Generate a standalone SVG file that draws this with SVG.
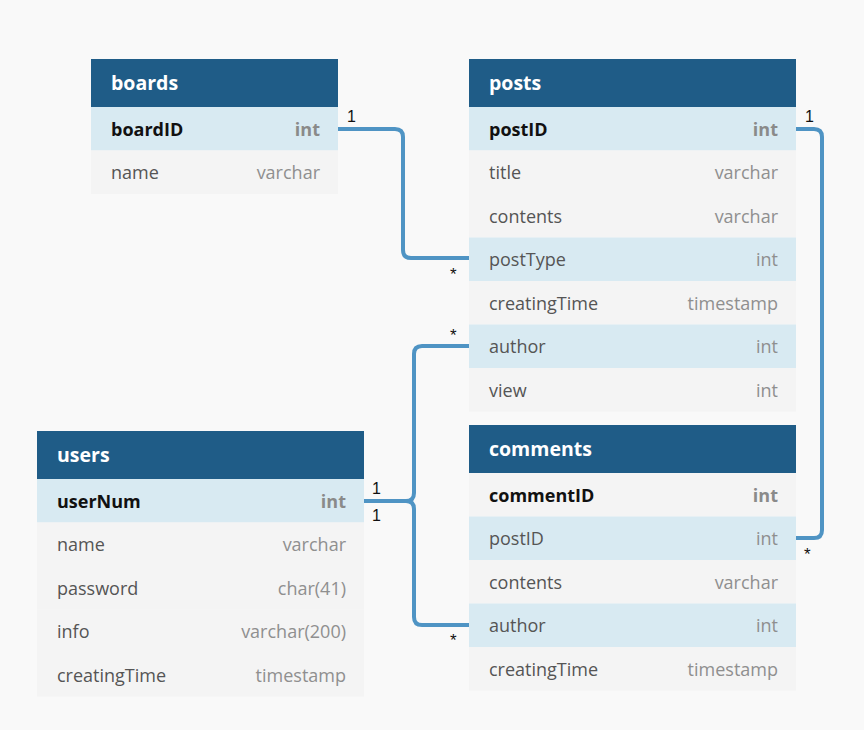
<svg xmlns="http://www.w3.org/2000/svg" width="864" height="730" viewBox="0 0 864 730">
<style>
.hd{fill:#1f5c87}
.hl{fill:#d8eaf2}
.pl{fill:#f4f4f4}
.ht{font-family:"Open Sans","Noto Sans",sans-serif;font-size:19.5px;font-weight:bold;fill:#ffffff}
.pk{font-family:"Open Sans","Noto Sans",sans-serif;font-size:18px;font-weight:bold;fill:#111111}
.pkt{font-family:"Open Sans","Noto Sans",sans-serif;font-size:18px;font-weight:bold;fill:#8a8a8a;text-anchor:end}
.fn{font-family:"Open Sans","Noto Sans",sans-serif;font-size:18px;fill:#555555}
.ft{font-family:"Open Sans","Noto Sans",sans-serif;font-size:18px;fill:#8f8f8f;text-anchor:end}
.cn{fill:none;stroke:#4f94c4;stroke-width:4}
.lb{font-family:"Liberation Sans",Arial,sans-serif;font-size:16px;fill:#111111}
.st{font-family:"Liberation Sans",Arial,sans-serif;font-size:17px;fill:#111111}
</style>
<rect width="864" height="730" fill="#f9f9f9"/>
<g id="connectors">
<path class="cn" d="M338,129 H395 Q403,129 403,137 V250 Q403,258 411,258 H469"/>
<path class="cn" d="M796,129 H814 Q822,129 822,137 V530 Q822,538 814,538 H796"/>
<path class="cn" d="M364,501 H406 Q414,501 414,493 V354 Q414,346 422,346 H469"/>
<path class="cn" d="M404,501 H406 Q414,501 414,509 V617 Q414,625 422,625 H469"/>
<text class="lb" x="347" y="122">1</text>
<text class="st" x="450" y="280">*</text>
<text class="lb" x="805" y="122">1</text>
<text class="st" x="804" y="560">*</text>
<text class="lb" x="372" y="494">1</text>
<text class="lb" x="372" y="521">1</text>
<text class="st" x="450" y="341">*</text>
<text class="st" x="450" y="646">*</text>
</g>
<g id="boards">
<rect class="hd" x="91" y="59" width="247" height="48"/>
<text class="ht" x="111" y="90">boards</text>
<rect class="hl" x="91" y="107" width="247" height="43.5"/>
<text class="pk" x="111" y="136">boardID</text>
<text class="pkt" x="320" y="136">int</text>
<rect class="pl" x="91" y="150.5" width="247" height="43.5"/>
<text class="fn" x="111" y="179">name</text>
<text class="ft" x="320" y="179">varchar</text>
</g>
<g id="posts">
<rect class="hd" x="469" y="59" width="327" height="48"/>
<text class="ht" x="489" y="90">posts</text>
<rect class="hl" x="469" y="107" width="327" height="43.5"/>
<text class="pk" x="489" y="136">postID</text>
<text class="pkt" x="778" y="136">int</text>
<rect class="pl" x="469" y="150.5" width="327" height="43.5"/>
<text class="fn" x="489" y="179">title</text>
<text class="ft" x="778" y="179">varchar</text>
<rect class="pl" x="469" y="194" width="327" height="43.5"/>
<text class="fn" x="489" y="223">contents</text>
<text class="ft" x="778" y="223">varchar</text>
<rect class="hl" x="469" y="237.5" width="327" height="43.5"/>
<text class="fn" x="489" y="266">postType</text>
<text class="ft" x="778" y="266">int</text>
<rect class="pl" x="469" y="281" width="327" height="43.5"/>
<text class="fn" x="489" y="310">creatingTime</text>
<text class="ft" x="778" y="310">timestamp</text>
<rect class="hl" x="469" y="324.5" width="327" height="43.5"/>
<text class="fn" x="489" y="353">author</text>
<text class="ft" x="778" y="353">int</text>
<rect class="pl" x="469" y="368" width="327" height="43.5"/>
<text class="fn" x="489" y="397">view</text>
<text class="ft" x="778" y="397">int</text>
</g>
<g id="comments">
<rect class="hd" x="469" y="425" width="327" height="48"/>
<text class="ht" x="489" y="456">comments</text>
<rect class="pl" x="469" y="473" width="327" height="43.5"/>
<text class="pk" x="489" y="502">commentID</text>
<text class="pkt" x="778" y="502">int</text>
<rect class="hl" x="469" y="516.5" width="327" height="43.5"/>
<text class="fn" x="489" y="545">postID</text>
<text class="ft" x="778" y="545">int</text>
<rect class="pl" x="469" y="560" width="327" height="43.5"/>
<text class="fn" x="489" y="589">contents</text>
<text class="ft" x="778" y="589">varchar</text>
<rect class="hl" x="469" y="603.5" width="327" height="43.5"/>
<text class="fn" x="489" y="632">author</text>
<text class="ft" x="778" y="632">int</text>
<rect class="pl" x="469" y="647" width="327" height="43.5"/>
<text class="fn" x="489" y="676">creatingTime</text>
<text class="ft" x="778" y="676">timestamp</text>
</g>
<g id="users">
<rect class="hd" x="37" y="431" width="327" height="48"/>
<text class="ht" x="57" y="462">users</text>
<rect class="hl" x="37" y="479" width="327" height="43.5"/>
<text class="pk" x="57" y="508">userNum</text>
<text class="pkt" x="346" y="508">int</text>
<rect class="pl" x="37" y="522.5" width="327" height="43.5"/>
<text class="fn" x="57" y="551">name</text>
<text class="ft" x="346" y="551">varchar</text>
<rect class="pl" x="37" y="566" width="327" height="43.5"/>
<text class="fn" x="57" y="595">password</text>
<text class="ft" x="346" y="595">char(41)</text>
<rect class="pl" x="37" y="609.5" width="327" height="43.5"/>
<text class="fn" x="57" y="638">info</text>
<text class="ft" x="346" y="638">varchar(200)</text>
<rect class="pl" x="37" y="653" width="327" height="43.5"/>
<text class="fn" x="57" y="682">creatingTime</text>
<text class="ft" x="346" y="682">timestamp</text>
</g>
</svg>
